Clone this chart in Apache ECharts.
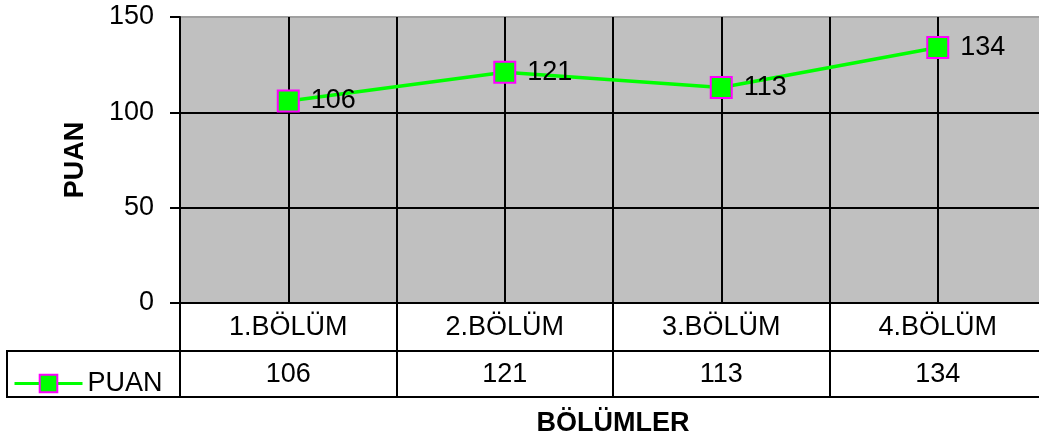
<!DOCTYPE html>
<html>
<head>
<meta charset="utf-8">
<script src="https://cdn.jsdelivr.net/npm/echarts@6/dist/echarts.min.js"></script>
<style>
html,body{margin:0;padding:0;background:#fff;}
#chart{width:1039px;height:441px;}
</style>
</head>
<body>
<div id="chart"></div>
<script>
var categories = ['1.BÖLÜM', '2.BÖLÜM', '3.BÖLÜM', '4.BÖLÜM'];
var seriesName = 'PUAN';
var puanValues = [106, 121, 113, 134];
var yTicks = [0, 50, 100, 150];

var FONT = "'Liberation Sans', Arial, sans-serif";
var chart = echarts.init(document.getElementById('chart'), null, {renderer: 'canvas'});

var option = {
  backgroundColor: '#ffffff',
  animation: false,
  textStyle: {fontFamily: FONT},
  grid: {left: 180, top: 17, width: 866, height: 286, outerBoundsMode: 'none', containLabel: false,
         backgroundColor: '#c0c0c0', show: true, borderWidth: 0},
  legend: {
    data: [seriesName],
    left: 8, top: 365,
    itemWidth: 68, itemHeight: 22,
    itemGap: 6,
    lineStyle: {width: 3},
    textStyle: {fontSize: 27, color: '#000', fontFamily: FONT}
  },
  xAxis: [
    {
      type: 'category', data: categories, position: 'bottom', boundaryGap: true,
      axisLine: {show: true, lineStyle: {color: '#000', width: 2}},
      axisTick: {show: true, interval: 0, length: 94, lineStyle: {color: '#000', width: 2}},
      axisLabel: {show: true, interval: 0, fontSize: 27, color: '#000', margin: 11, fontFamily: FONT},
      splitLine: {show: false}
    },
    {
      type: 'value', min: 0, max: categories.length, interval: 0.5, position: 'top',
      axisLine: {show: false}, axisTick: {show: false}, axisLabel: {show: false},
      splitLine: {show: true, lineStyle: {color: '#000', width: 2}}
    },
    {
      type: 'category', data: puanValues.map(String), position: 'bottom', offset: 48, boundaryGap: true,
      axisLine: {show: true, lineStyle: {color: '#000', width: 2}},
      axisTick: {show: false},
      axisLabel: {show: true, interval: 0, fontSize: 27, color: '#000', margin: 10, fontFamily: FONT},
      splitLine: {show: false}
    },
    {
      type: 'category', data: categories, position: 'bottom', offset: 94,
      name: 'BÖLÜMLER', nameLocation: 'middle', nameGap: 13,
      nameTextStyle: {fontSize: 27, fontWeight: 'bold', color: '#000', fontFamily: FONT, verticalAlign: 'top'},
      axisLine: {show: true, lineStyle: {color: '#000', width: 2}},
      axisTick: {show: false}, axisLabel: {show: false}, splitLine: {show: false}
    }
  ],
  yAxis: {
    type: 'value', min: yTicks[0], max: yTicks[yTicks.length - 1], interval: 50,
    name: seriesName, nameLocation: 'middle', nameGap: 91, nameRotate: 90,
    nameTextStyle: {fontSize: 27, fontWeight: 'bold', color: '#000', fontFamily: FONT},
    axisLine: {show: true, lineStyle: {color: '#000', width: 2}},
    axisTick: {show: true, inside: false, length: 10, lineStyle: {color: '#000', width: 2}},
    axisLabel: {fontSize: 27, color: '#000', margin: 26, fontFamily: FONT},
    splitLine: {show: true, lineStyle: {color: ['#000', '#000', '#000', '#a0a0a0'], width: 2}}
  },
  graphic: [
    {type: 'rect', shape: {x: 7, y: 351, width: 173, height: 46}, style: {fill: 'none', stroke: '#000', lineWidth: 2}, z: 10}
  ],
  series: [{
    name: seriesName, type: 'line', xAxisIndex: 0, data: puanValues,
    symbol: 'rect', symbolSize: 21,
    lineStyle: {color: '#00ff00', width: 3.5},
    itemStyle: {color: '#00ff00', borderColor: '#ff00ff', borderWidth: 2},
    label: {show: true, position: 'right', distance: 11, fontSize: 27, color: '#000', fontFamily: FONT},
    z: 5
  }]
};
chart.setOption(option);
</script>
</body>
</html>
